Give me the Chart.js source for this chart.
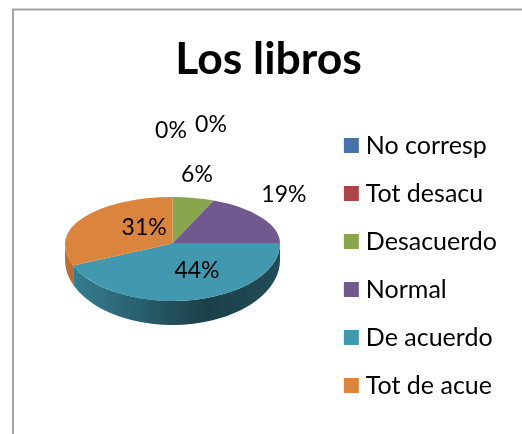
<!DOCTYPE html>
<html>
<head>
<meta charset="utf-8">
<style>html,body{margin:0;padding:0;background:#fff;overflow:hidden}canvas{display:block}</style>
<script src="https://cdn.jsdelivr.net/npm/chart.js@4"></script>
</head>
<body>
<canvas id="c" width="522" height="434"></canvas>
<script>
const categories = ['No corresp', 'Tot desacu', 'Desacuerdo', 'Normal', 'De acuerdo', 'Tot de acue'];
const responses = [0, 0, 1, 3, 7, 5];
const sliceColors = ['#4572A7', '#AA4643', '#89A54E', '#71588F', '#4198AF', '#DB843D'];
const labelOffsets = [[-1.5, -66], [38.5, -72], [3.5, -23], [22, -22.6], [3.5, -29], [61, 10.4]];

const FONT = 'Lato, Carlito, Calibri, sans-serif';
const pie = { cx: 172.5, cy: 243.5, rx: 107.5, ryTop: 46.5, ryBottom: 57.5, wallCy: 260, wallRy: 65 };

function shade(hex, k) {
  const n = parseInt(hex.slice(1), 16);
  return `rgb(${Math.round((n >> 16) * k)},${Math.round(((n >> 8) & 255) * k)},${Math.round((n & 255) * k)})`;
}

const framePlugin = {
  id: 'frame',
  beforeDraw(chart) {
    const ctx = chart.ctx;
    ctx.save();
    ctx.fillStyle = '#fff';
    ctx.fillRect(0, 0, chart.width, chart.height);
    ctx.strokeStyle = '#a3a3a3';
    ctx.lineWidth = 2;
    ctx.beginPath();
    ctx.moveTo(13, chart.height + 2);
    ctx.lineTo(13, 9.5);
    ctx.lineTo(chart.width + 2, 9.5);
    ctx.stroke();
    ctx.restore();
  }
};

const pie3dPlugin = {
  id: 'pie3d',
  beforeDatasetDraw(chart, args) {
    const ctx = chart.ctx;
    const arcs = args.meta.data;
    arcs.forEach((arc, i) => {
      const a = Math.max(arc.startAngle, 0), b = Math.min(arc.endAngle, Math.PI);
      if (b <= a) return;
      const g = ctx.createLinearGradient(pie.cx - pie.rx, 0, pie.cx + pie.rx, 0);
      g.addColorStop(0, shade(sliceColors[i], 0.85));
      g.addColorStop(0.66, shade(sliceColors[i], 0.42));
      g.addColorStop(1, shade(sliceColors[i], 0.5));
      ctx.save();
      ctx.fillStyle = g;
      ctx.beginPath();
      ctx.ellipse(pie.cx, pie.cy, pie.rx, pie.ryBottom, 0, a, b, false);
      ctx.ellipse(pie.cx, pie.wallCy, pie.rx, pie.wallRy, 0, b, a, true);
      ctx.closePath();
      ctx.fill();
      ctx.restore();
    });
    [[pie.ryTop, pie.cy - 200, 200.5], [pie.ryBottom, pie.cy - 0.5, 200]].forEach(([ry, top, h]) => {
      ctx.save();
      ctx.beginPath();
      ctx.rect(0, top, chart.width, h);
      ctx.clip();
      arcs.forEach(arc => {
        ctx.save();
        ctx.translate(pie.cx, pie.cy);
        ctx.scale(pie.rx / arc.outerRadius, ry / arc.outerRadius);
        ctx.translate(-arc.x, -arc.y);
        arc.draw(ctx);
        ctx.restore();
      });
      ctx.restore();
    });
    return false;
  },
  afterDatasetsDraw(chart) {
    const ctx = chart.ctx;
    const arcs = chart.getDatasetMeta(0).data;
    const total = responses.reduce((s, v) => s + v, 0);
    ctx.save();
    ctx.font = '23px ' + FONT;
    ctx.fillStyle = '#000';
    ctx.textAlign = 'center';
    ctx.textBaseline = 'middle';
    arcs.forEach((arc, i) => {
      const mid = (arc.startAngle + arc.endAngle) / 2;
      const s = Math.sin(mid);
      const x = pie.cx + pie.rx * Math.cos(mid);
      const y = pie.cy + (s > 0 ? pie.ryBottom : pie.ryTop) * s;
      const pct = Math.round(responses[i] / total * 100) + '%';
      ctx.fillText(pct, x + labelOffsets[i][0], y + labelOffsets[i][1]);
    });
    ctx.restore();
  }
};

new Chart(document.getElementById('c'), {
  type: 'pie',
  data: {
    labels: categories,
    datasets: [{ data: responses, backgroundColor: sliceColors, borderWidth: 0 }]
  },
  plugins: [framePlugin, pie3dPlugin],
  options: {
    responsive: false,
    animation: false,
    layout: { padding: { left: 30, right: 15, top: 0, bottom: 13 } },
    plugins: {
      tooltip: { enabled: false },
      title: {
        display: true,
        text: 'Los libros',
        color: '#000',
        font: { family: FONT, size: 44.5, weight: 'bold' },
        padding: { top: 33, bottom: 10 }
      },
      legend: {
        position: 'right',
        align: 'end',
        labels: {
          color: '#000',
          font: { family: FONT, size: 25 },
          boxWidth: 4,
          boxHeight: 4,
          padding: 23,
          generateLabels(chart) {
            return Chart.overrides.doughnut.plugins.legend.labels.generateLabels(chart)
              .map(l => ({ ...l, lineWidth: 11, strokeStyle: l.fillStyle, lineJoin: 'miter' }));
          }
        }
      }
    }
  }
});
</script>
</body>
</html>
